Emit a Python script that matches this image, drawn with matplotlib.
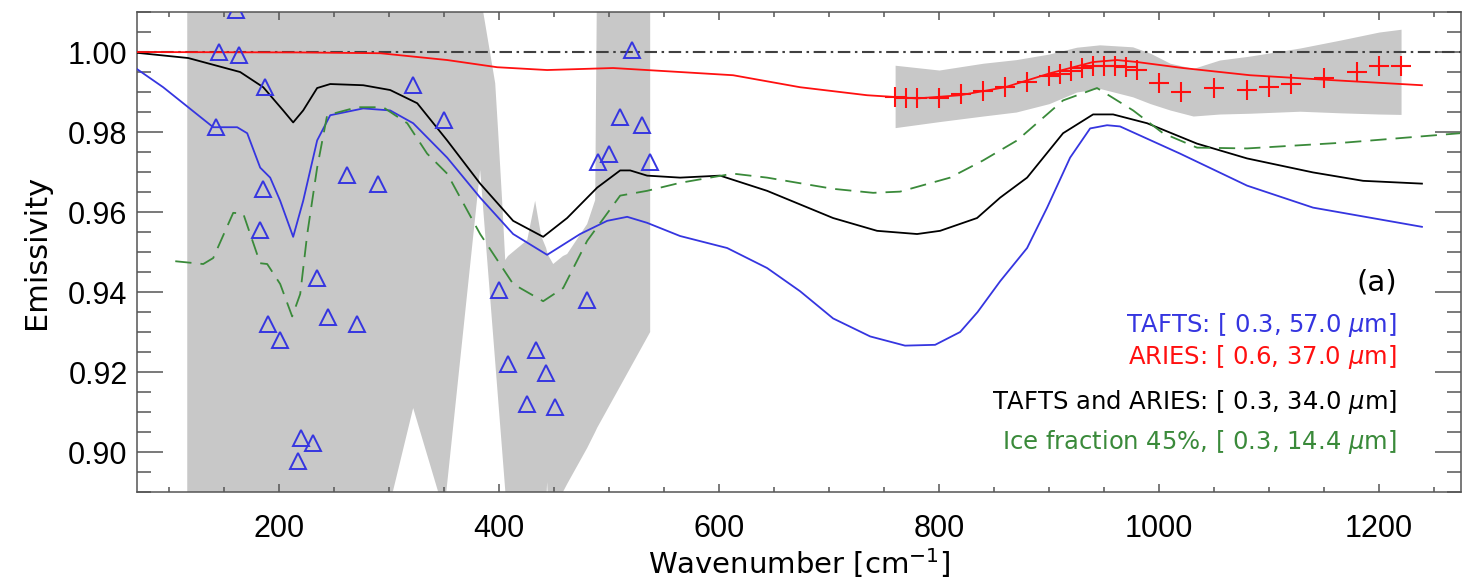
import matplotlib
matplotlib.use("Agg")
import matplotlib.pyplot as plt
from matplotlib.ticker import MultipleLocator

# TAFTS retrieved emissivity (triangles)
tafts_obs_x = [142.7, 145.5, 160.9, 163.6, 182.7, 185.5, 187.3, 190.0, 200.9, 217.3,
               220.0, 230.9, 234.5, 244.5, 261.8, 270.9, 290.0, 321.8, 350.0, 400.0,
               408.2, 425.5, 433.6, 442.7, 450.9, 480.0, 490.0, 500.0, 510.0, 520.9,
               530.0, 537.3]
tafts_obs_y = [0.9812, 1.0000, 1.0106, 0.9992, 0.9555, 0.9658, 0.9912, 0.9319, 0.9279, 0.8977,
               0.9035, 0.9023, 0.9435, 0.9337, 0.9693, 0.9319, 0.9671, 0.9917, 0.9829, 0.9405,
               0.9221, 0.9121, 0.9256, 0.9198, 0.9113, 0.9379, 0.9724, 0.9746, 0.9837, 1.0005,
               0.9817, 0.9724]

# TAFTS uncertainty envelope
tafts_band_x = [116.4, 290.0, 321.8, 350.0, 382.7, 385.5, 396.4, 399.1, 402.7, 405.5,
                408.0, 425.5, 432.7, 438.2, 442.7, 443.6, 445.0, 449.1, 458.0, 461.8,
                480.0, 487.3, 489.0, 537.3]
tafts_band_hi = [1.05, 1.05, 1.05, 1.05, 1.03, 1.010, 0.9922, 0.980, 0.9628, 0.948,
                 0.949, 0.953, 0.9628, 0.954, 0.951, 0.950, 0.949, 0.947, 0.949, 0.9495,
                 0.957, 0.963, 1.02, 1.05]
tafts_band_lo = [0.85, 0.875, 0.911, 0.885, 0.9705, 0.9607, 0.9225, 0.913, 0.9004, 0.8905,
                 0.875, 0.875, 0.876, 0.880, 0.887, 0.8925, 0.885, 0.884, 0.890, 0.892,
                 0.901, 0.905, 0.906, 0.930]

# ARIES retrieved emissivity (crosses)
aries_obs_x = [760, 770, 780, 800, 820, 840, 860, 880, 900, 910, 920, 930, 940, 950,
               960, 970, 980, 1000, 1020, 1050, 1080, 1100, 1120, 1150, 1180, 1200, 1220]
aries_obs_y = [0.9888, 0.9885, 0.9884, 0.9884, 0.9895, 0.9902, 0.9913, 0.9925, 0.9941,
               0.9946, 0.9953, 0.9959, 0.9965, 0.9966, 0.9965, 0.9962, 0.9955, 0.9923,
               0.9900, 0.9910, 0.9905, 0.9912, 0.9920, 0.9935, 0.9950, 0.9965, 0.9965]

# ARIES uncertainty envelope
aries_band_x = [760, 800, 840, 870, 900, 925, 946, 976, 992, 1010, 1031, 1055, 1083,
                1128, 1165, 1200, 1220]
aries_band_hi = [0.9967, 0.9955, 0.9972, 0.9981, 0.9995, 1.0012, 1.0018, 1.0013, 0.9997,
                 0.9972, 0.9959, 0.9980, 0.9990, 1.0010, 1.0030, 1.0050, 1.0057]
aries_band_lo = [0.9811, 0.9826, 0.9840, 0.9850, 0.9871, 0.9900, 0.9909, 0.9888, 0.9871,
                 0.9855, 0.9840, 0.9845, 0.9847, 0.9852, 0.9848, 0.9845, 0.9844]

# fitted spectra
tafts_fit_x = [70.9, 94.5, 140.0, 161.8, 170.9, 182.7, 191.8, 200.9, 212.7, 221.8, 234.5,
               246.4, 276.4, 300.9, 321.8, 352.7, 382.7, 412.7, 443.6, 473.6, 498.2,
               516.4, 534.5, 564.5, 607.3, 643.6, 673.6, 703.6, 737.3, 769.0, 796.4,
               819.1, 835.0, 855.5, 880.0, 898.2, 919.1, 937.3, 952.7, 964.5, 1019.1,
               1080.0, 1140.0, 1239.0]
tafts_fit_y = [0.9957, 0.9912, 0.9812, 0.9812, 0.9797, 0.9711, 0.9686, 0.9628, 0.9538,
               0.9628, 0.9779, 0.9842, 0.9859, 0.9854, 0.9822, 0.9736, 0.9636, 0.9545,
               0.9493, 0.9545, 0.9578, 0.9588, 0.9573, 0.9540, 0.9510, 0.9460, 0.9402,
               0.9334, 0.9289, 0.9266, 0.9268, 0.9300, 0.9350, 0.9427, 0.9510, 0.9611,
               0.9736, 0.9809, 0.9817, 0.9814, 0.9746, 0.9666, 0.9611, 0.9563]

aries_fit_x = [70.9, 219.0, 291.8, 352.7, 398.2, 443.6, 503.6, 564.5, 612.7, 673.6,
               734.5, 780.0, 819.1, 860.0, 900.9, 940.0, 961.8, 980.0, 1021.8, 1082.7,
               1155.5, 1239.0]
aries_fit_y = [1.0000, 0.9999, 0.9997, 0.9980, 0.9962, 0.9955, 0.9960, 0.9950, 0.9942,
               0.9912, 0.9892, 0.9884, 0.9892, 0.9912, 0.9947, 0.9975, 0.9980, 0.9975,
               0.9960, 0.9942, 0.9930, 0.9917]

both_fit_x = [70.9, 117.3, 164.5, 185.5, 203.6, 212.7, 221.8, 234.5, 246.4, 276.4, 300.9,
              325.5, 352.7, 382.7, 412.7, 440.0, 461.8, 489.1, 510.0, 519.1, 534.5,
              564.5, 600.9, 643.6, 703.6, 743.6, 780.0, 800.9, 834.5, 855.5, 880.0,
              912.7, 940.0, 958.2, 989.1, 1034.5, 1080.0, 1140.0, 1185.5, 1239.0]
both_fit_y = [0.9998, 0.9985, 0.9950, 0.9912, 0.9854, 0.9824, 0.9854, 0.9910, 0.9920,
              0.9917, 0.9905, 0.9872, 0.9779, 0.9671, 0.9578, 0.9538, 0.9585, 0.9661,
              0.9704, 0.9704, 0.9691, 0.9686, 0.9691, 0.9653, 0.9585, 0.9553, 0.9545,
              0.9553, 0.9585, 0.9636, 0.9686, 0.9797, 0.9844, 0.9844, 0.9822, 0.9771,
              0.9734, 0.9699, 0.9678, 0.9671]

ice_fit_x = [105.5, 130.9, 140.0, 158.2, 167.3, 182.7, 189.1, 200.9, 211.8, 219.1, 225.5,
             234.5, 243.6, 270.9, 294.5, 316.4, 334.5, 352.7, 382.7, 412.7, 440.0,
             458.2, 480.0, 510.0, 534.5, 564.5, 612.7, 643.6, 703.6, 740.0, 764.5,
             810.0, 840.0, 870.9, 912.7, 943.6, 976.4, 1003.6, 1034.5, 1080.0, 1170.9,
             1273.6]
ice_fit_y = [0.9477, 0.9470, 0.9485, 0.9598, 0.9596, 0.9472, 0.9470, 0.9420, 0.9339,
             0.9395, 0.9545, 0.9711, 0.9842, 0.9862, 0.9862, 0.9822, 0.9746, 0.9696,
             0.9545, 0.9420, 0.9377, 0.9410, 0.9528, 0.9641, 0.9653, 0.9673, 0.9696,
             0.9686, 0.9658, 0.9648, 0.9651, 0.9686, 0.9729, 0.9779, 0.9879, 0.9910,
             0.9854, 0.9797, 0.9761, 0.9759, 0.9774, 0.9797]

labels = ["TAFTS: [ 0.3, 57.0 $\\mu$m]",
          "ARIES: [ 0.6, 37.0 $\\mu$m]",
          "TAFTS and ARIES: [ 0.3, 34.0 $\\mu$m]",
          "Ice fraction 45%, [ 0.3, 14.4 $\\mu$m]"]

blue = "#3535e0"
red = "#ff1010"
green = "#3a8a3a"
grey = "#c8c8c8"

plt.rcParams['font.family'] = ['DejaVu Sans']
plt.rcParams['mathtext.fontset'] = 'dejavusans'
plt.rcParams['lines.solid_joinstyle'] = 'round'
plt.rcParams['lines.dash_joinstyle'] = 'round'

fig = plt.figure(figsize=(14.75, 5.84), dpi=100)
ax = fig.add_axes([0.0931, 0.1575, 0.8974, 0.8219])

ax.fill_between(tafts_band_x, tafts_band_lo, tafts_band_hi, color=grey, lw=0, zorder=1)
ax.fill_between(aries_band_x, aries_band_lo, aries_band_hi, color=grey, lw=0, zorder=1)

ax.axhline(1.0, color="#404040", lw=1.5, dashes=(6, 2.2, 1.2, 2.2), zorder=2)

ax.plot(tafts_fit_x, tafts_fit_y, color=blue, lw=1.3, zorder=3)
ax.plot(both_fit_x, both_fit_y, color="black", lw=1.3, zorder=3)
ax.plot(ice_fit_x, ice_fit_y, color=green, lw=1.3, dashes=(9, 5), zorder=3)
ax.plot(aries_fit_x, aries_fit_y, color=red, lw=1.3, zorder=4)

ax.plot(tafts_obs_x, tafts_obs_y, ls="none", marker="^", ms=12, mfc="none",
        mec=blue, mew=1.4, zorder=5)
ax.plot(aries_obs_x, aries_obs_y, ls="none", marker="+", ms=14, mec=red,
        mew=1.5, zorder=5)

ax.set_xlim(71, 1274.5)
ax.set_ylim(0.89, 1.01)

ax.xaxis.set_major_locator(MultipleLocator(200))
ax.xaxis.set_minor_locator(MultipleLocator(50))
ax.yaxis.set_major_locator(MultipleLocator(0.02))
ax.yaxis.set_minor_locator(MultipleLocator(0.005))
ax.yaxis.set_major_formatter(matplotlib.ticker.FormatStrFormatter('%.2f'))

ax.tick_params(axis='both', which='both', direction='in', top=True, right=True,
               color="#555555", width=1.1)
ax.tick_params(axis='x', which='major', length=6, pad=16)
ax.tick_params(axis='x', which='minor', length=3.5)
ax.tick_params(axis='y', which='major', length=19, pad=7)
ax.tick_params(axis='y', which='minor', length=10)
for lab in ax.get_xticklabels() + ax.get_yticklabels():
    lab.set_fontfamily('Liberation Sans')
    lab.set_fontsize(22)

for sp in ax.spines.values():
    sp.set_color("#555555")
    sp.set_linewidth(1.1)

ax.set_xlabel("Wavenumber [cm$^{-1}$]", fontsize=21, labelpad=1)
ax.set_ylabel("Emissivity", fontsize=22, labelpad=12)

tx = 0.9516
ax.text(tx, 0.4375, "(a)", transform=ax.transAxes, ha="right", va="center",
        fontsize=21, color="black")
for lab, yy, col in zip(labels, [0.348, 0.281, 0.1875, 0.104],
                        [blue, red, "black", green]):
    ax.text(tx, yy, lab, transform=ax.transAxes, ha="right", va="center",
            fontsize=17.5, color=col)

fig.savefig("out.png", dpi=100)
